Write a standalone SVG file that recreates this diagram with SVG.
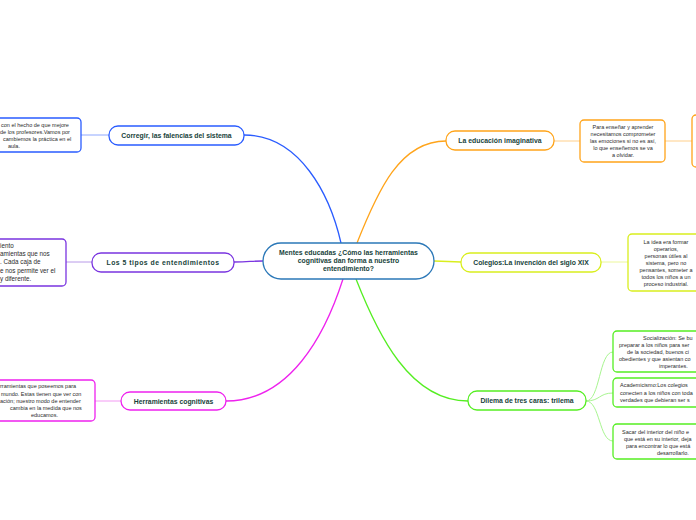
<svg xmlns="http://www.w3.org/2000/svg" width="696" height="520" viewBox="0 0 696 520">
<style>
.lbl{font-family:"Liberation Sans",Arial,sans-serif;font-weight:bold;font-size:6.85px;fill:#17423a;text-anchor:middle}
.txt{font-family:"Liberation Sans",Arial,sans-serif;font-size:5.5px;fill:#2b2b2b}
.c{text-anchor:middle}
.main{fill:#fff;stroke-width:1.3}
.det{fill:#fff;stroke-width:1.3}
.con{fill:none;stroke-width:1.3}
.sub{fill:none;stroke-width:1}
</style>
<rect width="696" height="520" fill="#fff"/>
<g id="connectors">
<path class="con" stroke="#2a5cff" d="M341,243 C330,195 300,135 244,135"/>
<path class="sub" stroke="#8fa8ff" d="M81,135 L109,135"/>
<path class="con" stroke="#7a35e0" d="M263,261 C250,261 250,262 234,262"/>
<path class="sub" stroke="#b89ae8" d="M66,262 L92,262"/>
<path class="con" stroke="#ee22ee" d="M343,279 C325,335 290,401 226,401"/>
<path class="sub" stroke="#f39af3" d="M95,401 L121,401"/>
<path class="con" stroke="#ffa41a" d="M357,243 C378,190 400,141 446,141"/>
<path class="sub" stroke="#ffcf8a" d="M554,141 L580,141"/>
<path class="sub" stroke="#ffcf8a" d="M665,141 L692,141"/>
<path class="con" stroke="#d9ee1e" d="M434,261 C448,261 448,262 461,262"/>
<path class="sub" stroke="#ecf79a" d="M601,262 L628,262"/>
<path class="con" stroke="#55ee22" d="M356,279 C378,335 410,401 468,401"/>
<path class="sub" stroke="#a8f590" d="M586,401 C600,401 599,352 613,352"/>
<path class="sub" stroke="#a8f590" d="M586,401 C600,401 599,393 613,393"/>
<path class="sub" stroke="#a8f590" d="M586,401 C600,401 599,441 613,441"/>
</g>
<g id="center">
<rect class="main" x="263" y="243" width="171" height="36" rx="18" stroke="#2b78b8"/>
<text class="lbl" x="348.5" y="255">Mentes educadas ¿Cómo las herramientas</text>
<text class="lbl" x="348.5" y="263">cognitivas dan forma a nuestro</text>
<text class="lbl" x="348.5" y="271">entendimiento?</text>
</g>
<g id="corregir">
<rect class="main" x="109" y="126" width="135" height="19" rx="9" stroke="#2a5cff"/>
<text class="lbl" x="176.5" y="137.5">Corregir, las falencias del sistema</text>
</g>
<g id="corregir-det">
<rect class="det" x="-20" y="118" width="101" height="34" rx="4" stroke="#2a5cff"/>
<text class="txt" x="1" y="127">con el hecho de que mejore</text>
<text class="txt" x="0" y="134">de los profesores.Vamos por</text>
<text class="txt" x="3" y="141">cambiemos la práctica en el</text>
<text class="txt" x="8" y="148">aula.</text>
</g>
<g id="tipos">
<rect class="main" x="92" y="253" width="142" height="19" rx="9" stroke="#7a35e0"/>
<text class="lbl" x="163" y="264.5" style="letter-spacing:0.5px">Los 5 tipos de entendimientos</text>
</g>
<g id="tipos-det">
<rect class="det" x="-20" y="239" width="86" height="47" rx="4" stroke="#7a35e0"/>
<text class="txt" style="font-size:6.3px" x="0" y="248">iento</text>
<text class="txt" style="font-size:6.3px" x="0" y="256">amientas que nos</text>
<text class="txt" style="font-size:6.3px" x="0" y="264">. Cada caja de</text>
<text class="txt" style="font-size:6.3px" x="0" y="272.5">e nos permite ver el</text>
<text class="txt" style="font-size:6.3px" x="0" y="281">y diferente.</text>
</g>
<g id="herramientas">
<rect class="main" x="121" y="392" width="105" height="18" rx="9" stroke="#ee22ee"/>
<text class="lbl" x="173.5" y="403.5">Herramientas cognitivas</text>
</g>
<g id="herramientas-det">
<rect class="det" x="-20" y="380" width="115" height="41" rx="4" stroke="#ee22ee"/>
<text class="txt" x="0" y="388">rramientas que poseemos para</text>
<text class="txt" x="1" y="395.5">mundo. Estas tienen que ver con</text>
<text class="txt" x="0" y="403">ación; nuestro modo de entender</text>
<text class="txt" x="10" y="410">cambia en la medida que nos</text>
<text class="txt" x="31" y="417">educamos.</text>
</g>
<g id="imaginativa">
<rect class="main" x="446" y="131" width="108" height="19" rx="9" stroke="#ffa41a"/>
<text class="lbl" x="500" y="143">La educación imaginativa</text>
</g>
<g id="imaginativa-det">
<rect class="det" x="580" y="120" width="85" height="42" rx="4" stroke="#ffa41a"/>
<text class="txt c" x="623" y="129">Para enseñar y aprender</text>
<text class="txt c" x="623" y="136">necesitamos comprometer</text>
<text class="txt c" x="623" y="143">las emociones si no es así,</text>
<text class="txt c" x="623" y="150">lo que enseñemos se va</text>
<text class="txt c" x="623" y="157">a olvidar.</text>
</g>
<g id="imaginativa-det2">
<rect class="det" x="692" y="115" width="40" height="52" rx="4" stroke="#ffa41a"/>
</g>
<g id="colegios">
<rect class="main" x="461" y="253" width="140" height="19" rx="9" stroke="#d9ee1e"/>
<text class="lbl" x="531" y="264.5">Colegios:La invención del siglo XIX</text>
</g>
<g id="colegios-det">
<rect class="det" x="628" y="234" width="80" height="57" rx="4" stroke="#d9ee1e"/>
<text class="txt c" x="666" y="243.5">La idea era formar</text>
<text class="txt c" x="666" y="250.5">operarios,</text>
<text class="txt c" x="666" y="257.5">personas útiles al</text>
<text class="txt c" x="666" y="264.5">sistema, pero no</text>
<text class="txt c" x="666" y="271.5">pensantes, someter a</text>
<text class="txt c" x="666" y="278.5">todos los niños a un</text>
<text class="txt c" x="666" y="285.5">proceso industrial.</text>
</g>
<g id="dilema">
<rect class="main" x="468" y="391" width="118" height="19" rx="9" stroke="#55ee22"/>
<text class="lbl" x="527" y="403">Dilema de tres caras: trilema</text>
</g>
<g id="dilema-det1">
<rect class="det" x="613" y="331" width="100" height="41" rx="4" stroke="#55ee22"/>
<text class="txt" x="643" y="340">Socialización: Se bu</text>
<text class="txt" x="619" y="347">preparar a los niños para ser</text>
<text class="txt" x="627" y="354">de la sociedad, buenos ci</text>
<text class="txt" x="619" y="361">obedientes y que asientan co</text>
<text class="txt" x="659" y="368">imperantes.</text>
</g>
<g id="dilema-det2">
<rect class="det" x="613" y="378" width="100" height="29" rx="4" stroke="#55ee22"/>
<text class="txt" x="620" y="387">Academicismo:Los colegios</text>
<text class="txt" x="620" y="394.5">conecten a los niños con toda</text>
<text class="txt" x="620" y="402">verdades que debieran ser s</text>
</g>
<g id="dilema-det3">
<rect class="det" x="613" y="424" width="100" height="35" rx="4" stroke="#55ee22"/>
<text class="txt" x="622" y="433.5">Sacar del interior del niño e</text>
<text class="txt" x="624" y="441">que está en su interior, deja</text>
<text class="txt" x="626" y="448">para encontrar lo que está</text>
<text class="txt" x="657" y="455">desarrollarlo.</text>
</g>
</svg>
